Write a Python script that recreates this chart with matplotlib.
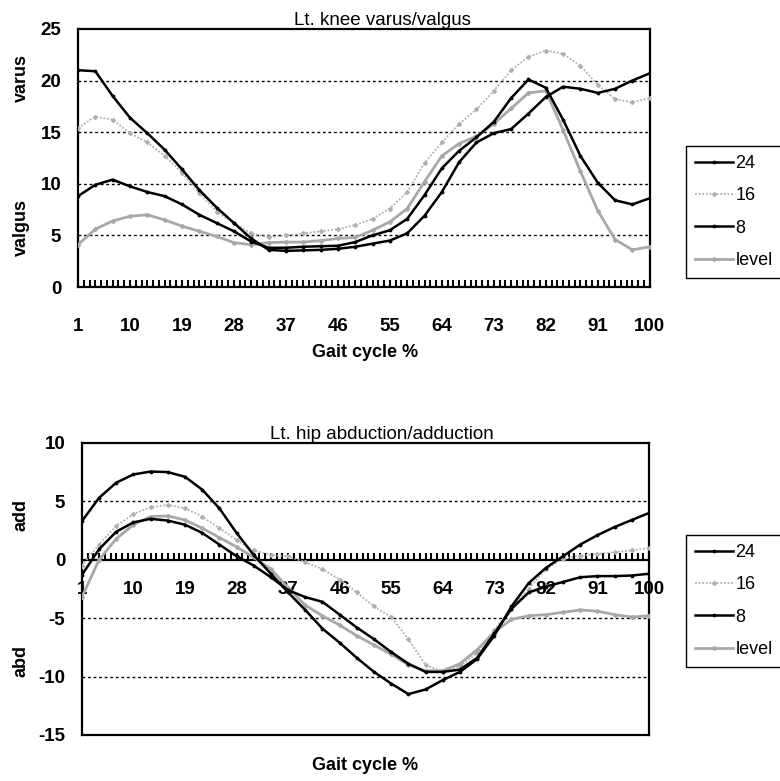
import numpy as np
import matplotlib
matplotlib.use("Agg")
import matplotlib.pyplot as plt

plt.rcParams['font.family'] = ['Liberation Sans', 'DejaVu Sans']

# gait cycle %, sampled every 3 points
gait_pct = list(range(1, 101, 3))
tick_pct = list(range(1, 101, 9))
series_names = ["24", "16", "8", "level"]

# Lt. knee varus/valgus
knee_24 = [21.0, 20.9, 18.5, 16.4, 14.9, 13.3, 11.4, 9.4, 7.7, 6.2, 4.7, 3.6,
           3.5, 3.55, 3.6, 3.7, 3.9, 4.2, 4.5, 5.2, 6.9, 9.2, 12.1, 14.0,
           14.9, 15.3, 16.8, 18.4, 19.4, 19.2, 18.8, 19.2, 20.0, 20.7]
knee_16 = [15.4, 16.5, 16.2, 14.9, 14.0, 12.7, 11.05, 9.1, 7.3, 6.2, 5.2, 4.8,
           5.0, 5.2, 5.4, 5.6, 6.0, 6.6, 7.6, 9.2, 12.0, 14.0, 15.8, 17.2,
           19.0, 21.0, 22.3, 22.9, 22.6, 21.4, 19.6, 18.2, 17.9, 18.3]
knee_8 = [8.8, 9.9, 10.4, 9.75, 9.2, 8.8, 8.0, 7.0, 6.2, 5.4, 4.4, 3.8,
          3.8, 3.9, 3.95, 4.0, 4.35, 5.0, 5.5, 6.6, 8.9, 11.5, 13.2, 14.5,
          16.0, 18.3, 20.1, 19.3, 16.2, 12.7, 10.1, 8.4, 8.0, 8.6]
knee_level = [4.1, 5.6, 6.4, 6.85, 7.0, 6.5, 5.9, 5.4, 4.9, 4.3, 4.1, 4.3,
              4.35, 4.35, 4.5, 4.7, 4.8, 5.5, 6.3, 7.6, 10.2, 12.7, 13.9, 14.6,
              15.8, 17.3, 18.8, 19.0, 15.2, 11.2, 7.4, 4.6, 3.6, 3.9]

# Lt. hip abduction/adduction
hip_24 = [3.3, 5.3, 6.6, 7.3, 7.55, 7.5, 7.1, 6.0, 4.4, 2.3, 0.4, -1.2,
          -2.8, -4.3, -5.9, -7.1, -8.4, -9.6, -10.6, -11.5, -11.1, -10.3, -9.6, -8.5,
          -6.5, -4.0, -2.0, -0.7, 0.3, 1.3, 2.1, 2.8, 3.4, 4.0]
hip_16 = [-0.5, 1.3, 2.9, 3.9, 4.5, 4.7, 4.4, 3.7, 2.7, 1.7, 0.8, 0.4,
          0.3, -0.2, -0.8, -1.7, -2.8, -4.0, -4.9, -6.8, -9.0, -9.6, -9.1, -8.0,
          -6.0, -4.2, -2.5, -0.8, 0.1, 0.35, 0.5, 0.65, 0.8, 1.0]
hip_8 = [-1.3, 0.9, 2.4, 3.2, 3.5, 3.35, 3.0, 2.3, 1.3, 0.3, -0.5, -1.5,
         -2.6, -3.2, -3.6, -4.7, -5.8, -6.8, -7.9, -8.9, -9.6, -9.6, -9.4, -8.4,
         -6.3, -4.2, -2.8, -2.3, -1.9, -1.5, -1.4, -1.4, -1.35, -1.2]
hip_level = [-3.2, 0.0, 1.8, 3.0, 3.7, 3.75, 3.4, 2.7, 1.9, 1.1, 0.2, -0.8,
             -2.4, -3.9, -4.8, -5.6, -6.5, -7.3, -8.1, -9.0, -9.5, -9.5, -8.9, -7.7,
             -6.2, -5.1, -4.8, -4.7, -4.5, -4.3, -4.4, -4.7, -4.9, -4.8]

black_style = dict(color='black', lw=1.8, marker='.', ms=3.5)
gray_style = dict(color='#a8a8a8', lw=2.0, marker='D', ms=2)
light_style = dict(color='#b0b0b0', lw=1.3, ls=(0, (1, 1)), marker='D', ms=2)

fig = plt.figure(figsize=(7.8, 7.81), dpi=100)


def style_axes(ax, ylim, yticks, grid_vals, xpad):
    ax.set_xlim(1, 100)
    ax.set_ylim(*ylim)
    ax.set_yticks(yticks)
    ax.set_xticks(tick_pct)
    ax.set_xticks(range(1, 101), minor=True)
    for v in grid_vals:
        ax.axhline(v, color='black', lw=1.0, ls=(0, (2, 2)), zorder=1)
    for s in ax.spines.values():
        s.set_linewidth(1.6)
    ax.tick_params(axis='x', which='both', direction='in', length=5, width=1.5, pad=xpad)
    ax.tick_params(axis='y', length=0, pad=12)
    ax.set_xticklabels([str(t) for t in tick_pct], fontsize=13.5, fontweight='bold')
    ax.set_yticklabels([str(t) for t in yticks], fontsize=13.5, fontweight='bold')


def add_legend(ax, top):
    fig.legend(*ax.get_legend_handles_labels(), loc='upper left', bbox_to_anchor=(0.879, top),
               fancybox=False, edgecolor='black', framealpha=1, handlelength=2.1,
               handletextpad=0.15, borderpad=0.5, labelspacing=0.85, borderaxespad=0,
               prop={'size': 13})


label_kw = dict(fontsize=13, fontweight='bold', ha='center', va='center')

# top chart
ax1 = fig.add_axes([0.1, 0.6325, 0.733, 0.3305])
ax1.plot(gait_pct, knee_24, label=series_names[0], zorder=4, **black_style)
ax1.plot(gait_pct, knee_16, label=series_names[1], zorder=3, **light_style)
ax1.plot(gait_pct, knee_8, label=series_names[2], zorder=4, **black_style)
ax1.plot(gait_pct, knee_level, label=series_names[3], zorder=3, **gray_style)
style_axes(ax1, (0, 25), [0, 5, 10, 15, 20, 25], [5, 10, 15, 20], 22)
ax1.set_title("Lt. knee varus/valgus", fontsize=13.5, pad=3, x=0.533)
fig.text(0.468, 1 - 352 / 781, "Gait cycle %", **label_kw)
fig.text(0.027, 0.90, "varus", rotation=90, **label_kw)
fig.text(0.027, 0.709, "valgus", rotation=90, **label_kw)
add_legend(ax1, 1 - 146 / 781)

# bottom chart
ax2 = fig.add_axes([0.105, 0.0589, 0.727, 0.374])
ax2.plot(gait_pct, hip_24, label=series_names[0], zorder=4, **black_style)
ax2.plot(gait_pct, hip_16, label=series_names[1], zorder=3, **light_style)
ax2.plot(gait_pct, hip_8, label=series_names[2], zorder=4, **black_style)
ax2.plot(gait_pct, hip_level, label=series_names[3], zorder=3, **gray_style)
ax2.spines['bottom'].set_position(('data', 0))
style_axes(ax2, (-15, 10), [-15, -10, -5, 0, 5, 10], [-10, -5, 5], 15)
ax2.axhline(-15, color='black', lw=1.6, clip_on=False)
ax2.set_title("Lt. hip abduction/adduction", fontsize=13.5, pad=3, x=0.529)
fig.text(0.468, 1 - 765 / 781, "Gait cycle %", **label_kw)
fig.text(0.027, 0.341, "add", rotation=90, **label_kw)
fig.text(0.027, 0.154, "abd", rotation=90, **label_kw)
add_legend(ax2, 1 - 535 / 781)

fig.savefig("out.png", dpi=100)
